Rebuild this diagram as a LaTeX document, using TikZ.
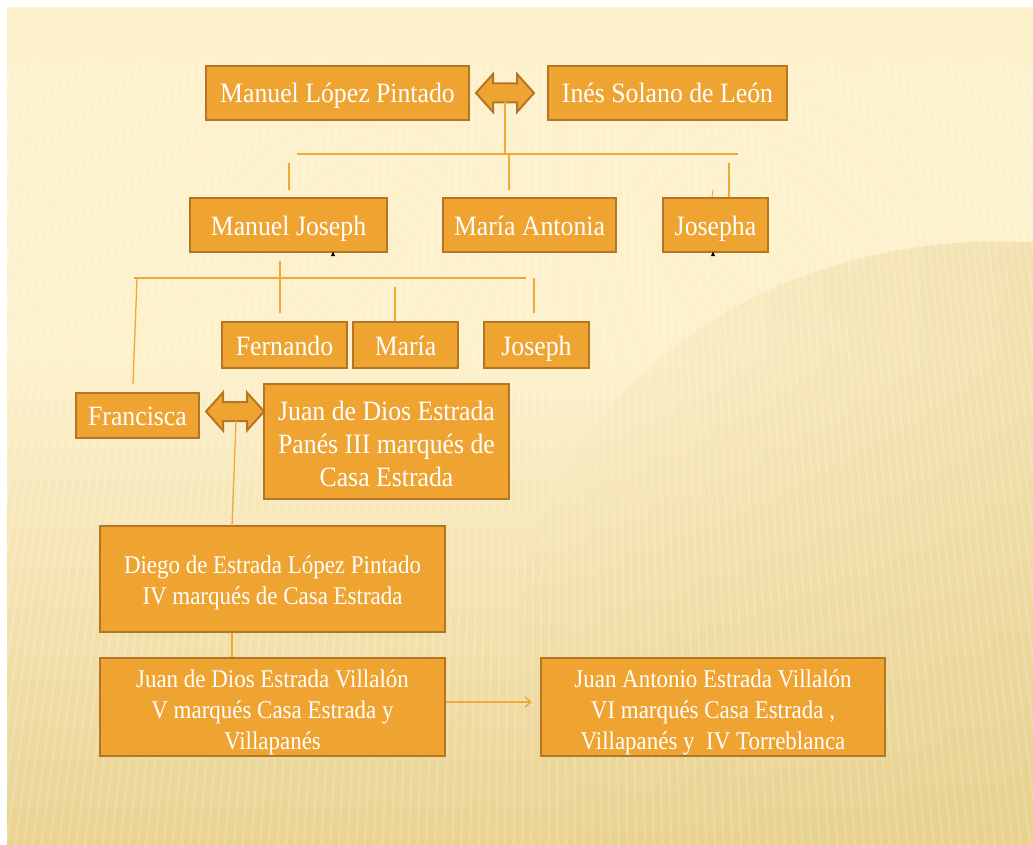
\documentclass[tikz,border=0pt]{standalone}
\usepackage{fontspec}
\setmainfont{Liberation Serif}
\newfontfamily\cf[FakeStretch=0.92]{Liberation Serif}
\newfontfamily\cfs[FakeStretch=0.9]{Liberation Serif}
\usetikzlibrary{arrows.meta,fadings}
\definecolor{boxfill}{RGB}{239,164,50}
\definecolor{boxline}{RGB}{180,118,36}
\definecolor{linkc}{RGB}{240,168,55}
\definecolor{bgtop}{RGB}{253,241,204}
\definecolor{bgbot}{RGB}{234,211,146}
\definecolor{bgdark}{RGB}{230,207,140}
\newcommand\tstr[1]{\rule{0pt}{#1pt}}
\newcommand\bstr{\rule[-7pt]{0pt}{7pt}}
\tikzfading[name=fadeleft, left color=transparent!100, middle color=transparent!15, right color=transparent!0]
\tikzset{
  box/.style={draw=boxline, line width=2.2pt, fill=boxfill, text=white, inner sep=0pt, align=center, font=\cf\fontsize{28}{33}\selectfont},
  onebox/.style={box, text height=27pt, text depth=7pt},
  smallbox/.style={box, font=\cfs\fontsize{25.5}{31}\selectfont},
  link/.style={draw=linkc, line width=1.3pt},
  arrowshape/.style={draw=boxline, line width=2pt, fill=boxfill, line join=miter},
  dbl/.pic={\path[arrowshape] (-29,0) -- (-12,-19) -- (-12,-9.5) -- (12,-9.5) -- (12,-19) -- (29,0) -- (12,19) -- (12,9.5) -- (-12,9.5) -- (-12,19) -- cycle;}
}
\begin{document}
\begin{tikzpicture}[x=1pt,y=-1pt]
\useasboundingbox (0,0) rectangle (1033,845);
% background
\fill[white] (0,0) rectangle (1033,845);
\begin{scope}
\clip (7,7) rectangle (1033,845);
\fill[bgtop] (7,7) rectangle (1033,845);
\shade[top color=bgtop, bottom color=bgbot] (7,360) rectangle (1033,845);
\fill[bgdark, opacity=0.85, path fading=fadeleft] (1000,640) ellipse [x radius=480, y radius=400];
\foreach \x in {12,19,...,1040} {
  \draw[white, opacity=0.16, line width=2.2pt] (\x,58) -- ({\x+(\x-560)*0.25},845);
}
\end{scope}

% nodes
\node[onebox, minimum width=263pt, minimum height=54pt] (mlp) at (337.5,93) {Manuel López Pintado};
\node[onebox, minimum width=239pt, minimum height=54pt] (isl) at (667.5,93) {Inés Solano de León};
\node[onebox, minimum width=197pt, minimum height=54pt] (mj) at (288.5,225) {Manuel Joseph};
\node[onebox, minimum width=173pt, minimum height=54pt] (ma) at (529.5,225) {María Antonia};
\node[onebox, minimum width=105pt, minimum height=54pt] (jo) at (715.5,225) {Josepha};
\node[onebox, minimum width=125pt, minimum height=46pt] (fe) at (284.5,345) {Fernando};
\node[onebox, minimum width=105pt, minimum height=46pt] (mar) at (405.5,345) {María};
\node[onebox, minimum width=105pt, minimum height=46pt] (jos) at (536.5,345) {Joseph};
\node[onebox, minimum width=123pt, minimum height=45pt] (fra) at (137.5,415.5) {Francisca};
\node[box, minimum width=245pt, minimum height=115pt] (jde) at (386.5,441.5) {\tstr{30}Juan de Dios Estrada\\Panés III marqués de\\Casa Estrada\bstr};
\node[smallbox, minimum width=345pt, minimum height=106pt] (die) at (272.5,579) {\tstr{27}Diego de Estrada López Pintado\\IV marqués de Casa Estrada\bstr};
\node[smallbox, minimum width=345pt, minimum height=98pt] (jdv) at (272.5,707) {\tstr{29}Juan de Dios Estrada Villalón\\V marqués Casa Estrada y\\Villapanés\bstr};
\node[smallbox, minimum width=344pt, minimum height=98pt] (jav) at (713,707) {\tstr{29}Juan Antonio Estrada Villalón\\VI marqués Casa Estrada ,\\Villapanés y\ \ IV Torreblanca\bstr};

% marriage arrows
\pic at (505,93) {dbl};
\pic at (235,411.5) {dbl};
\coordinate (a1) at (505,102.5);
\coordinate (a2) at (236,421);

% coordinates for connectors
\coordinate (h1) at (505,154);
\coordinate (h1l) at (297,154);
\coordinate (h1r) at (738,154);
\coordinate (v1t) at (289,163);
\coordinate (v1b) at (289,190);
\coordinate (v2t) at (509,154);
\coordinate (v2b) at (509,190);
\coordinate (v3t) at (729,163);
\coordinate (t1t) at (713,190);
\coordinate (t1b) at (712,197);
\coordinate (h2l) at (134,278);
\coordinate (h2r) at (526,278);
\coordinate (v4t) at (280,261);
\coordinate (v4b) at (280,313);
\coordinate (v5t) at (395,287);
\coordinate (v6t) at (534,278);
\coordinate (v6b) at (534,313);
\coordinate (ft) at (137,278);
\coordinate (fb) at (133,384);
\coordinate (dt) at (232,526);

% connectors
\draw[link] (a1) -- (h1);
\draw[link] (h1l) -- (h1r);
\draw[link] (v1t) -- (v1b);
\draw[link] (v2t) -- (v2b);
\draw[link] (v3t) -- (v3t |- jo.north);
\draw[link, line width=1pt] (t1t) -- (t1b);
\draw[link] (h2l) -- (h2r);
\draw[link] (v4t) -- (v4b);
\draw[link] (v5t) -- (v5t |- mar.north);
\draw[link] (v6t) -- (v6b);
\draw[link] (ft) -- (fb);
\draw[link] (a2) -- (dt);
\draw[link] (die.south -| dt) -- (jdv.north -| dt);
\draw[link, -{Straight Barb[length=6pt,width=10pt]}] (jdv.east |- 0,702) -- (532,702);

% small black marks
\fill[black] (331,256) -- (333,251.5) -- (335,256) -- cycle;
\fill[black] (711,256) -- (713,251.5) -- (715,256) -- cycle;
\end{tikzpicture}
\end{document}
